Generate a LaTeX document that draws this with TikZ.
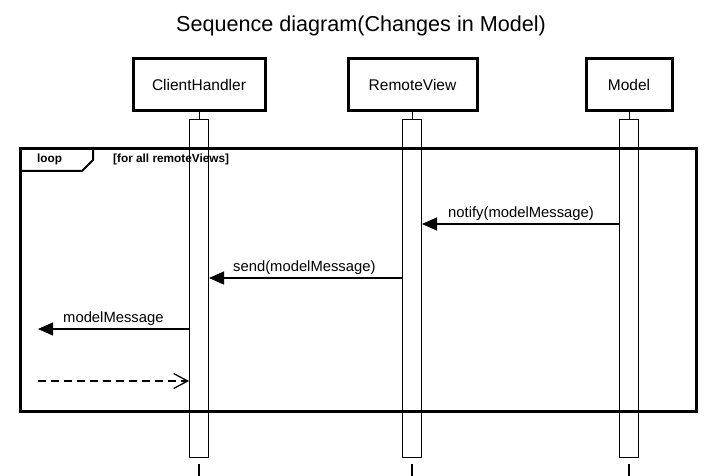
\documentclass[tikz,border=0pt]{standalone}
\usepackage{fontspec}
\setmainfont{Liberation Sans}
\usetikzlibrary{arrows.meta}
\begin{document}
\begin{tikzpicture}[x=1pt,y=-1pt,
  part/.style={draw,line width=3pt,minimum width=#1,minimum height=52pt,inner sep=0pt,font=\fontsize{15.5}{18}\selectfont},
  bar/.style={draw,line width=1pt,fill=white,minimum width=19pt,minimum height=337pt,inner sep=0pt},
  msg/.style={line width=1.3pt,-{Triangle[length=15pt,width=13pt]}},
  ret/.style={line width=1.3pt,dash pattern=on 8pt off 5pt,-{Straight Barb[length=14pt,width=15pt,line width=1.3pt]}},
  lbl/.style={font=\fontsize{14.8}{17}\selectfont,anchor=base west,inner sep=0pt},
  tagtxt/.style={font=\bfseries\fontsize{11.8}{14}\selectfont,anchor=base west,inner sep=0pt},
  stem/.style={line width=1pt},
  tick/.style={line width=1.5pt}]
\useasboundingbox (0,0) rectangle (723,476);
\node[anchor=base,font=\fontsize{21.6}{25}\selectfont,inner sep=0pt] (title) at (361,32) {Sequence diagram(Changes in Model)};
% participants
\node[part=132pt] (ch) at (199,85) {ClientHandler};
\node[part=129pt] (rv) at (412.5,85) {RemoteView};
\node[part=86pt] (m) at (629,85) {Model};
% activation bars
\node[bar] (chb) at (199,288.5) {};
\node[bar] (rvb) at (412,288.5) {};
\node[bar] (mb) at (629,288.5) {};
\draw[stem] (ch.south) -- (chb.north);
\draw[stem] (rv.south -| rvb.north) -- (rvb.north);
\draw[stem] (m.south) -- (mb.north);
% bottom ticks
\coordinate (t1a) at (199,464); \coordinate (t1b) at (199,476);
\coordinate (t2a) at (412,464); \coordinate (t2b) at (412,476);
\coordinate (t3a) at (629,464); \coordinate (t3b) at (629,476);
\draw[tick] (t1a) -- (t1b);
\draw[tick] (t2a) -- (t2b);
\draw[tick] (t3a) -- (t3b);
% loop frame
\node[draw,line width=3pt,minimum width=676pt,minimum height=263pt,inner sep=0pt,anchor=north west] (loop) at (19,147) {};
\coordinate (g1) at (19,171); \coordinate (g2) at (82,171); \coordinate (g3) at (93,160); \coordinate (g4) at (93,147);
\draw[line width=2pt] (g1) -- (g2) -- (g3) -- (g4);
\node[tagtxt] (looptxt) at (37,163) {loop};
\node[tagtxt] (guard) at (113,163) {[for all remoteViews]};
% messages
\coordinate (y1) at (0,224);
\coordinate (y2) at (0,278);
\coordinate (y3) at (0,329);
\coordinate (y4) at (0,381);
\coordinate (lft3) at (38,329);
\coordinate (lft4) at (38,381);
\draw[msg] (mb.west |- y1) -- (rvb.east |- y1);
\node[lbl] (l1) at (448,217) {notify(modelMessage)};
\draw[msg] (rvb.west |- y2) -- (chb.east |- y2);
\node[lbl] (l2) at (233,271) {send(modelMessage)};
\draw[msg] (chb.west |- y3) -- (lft3);
\node[lbl] (l3) at (63,322) {modelMessage};
\draw[ret] (lft4) -- (chb.west |- y4);
\end{tikzpicture}
\end{document}
